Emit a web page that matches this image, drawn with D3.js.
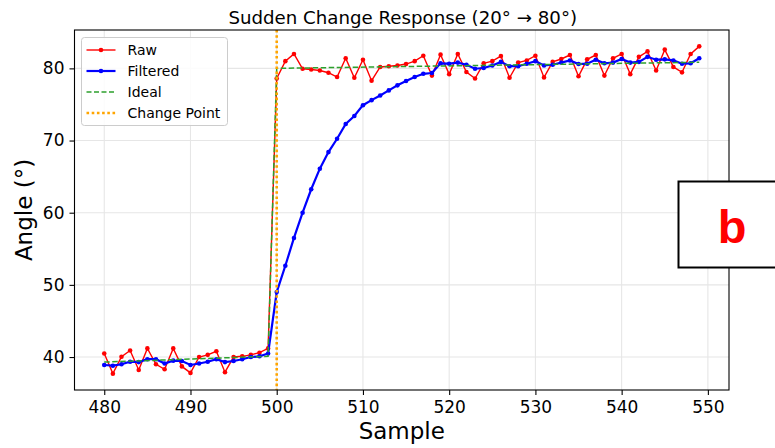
<!DOCTYPE html>
<html>
<head>
<meta charset="utf-8">
<script src="https://cdn.jsdelivr.net/npm/d3@7"></script>
<style>
  html, body { margin: 0; padding: 0; background: #fff; }
  svg { display: block; font-family: "DejaVu Sans", sans-serif; }
</style>
</head>
<body>
<svg id="chart" width="775" height="448"></svg>
<script>
// Sample index for every reading
const samples = [
  480, 481, 482, 483, 484, 485, 486, 487, 488, 489,
  490, 491, 492, 493, 494, 495, 496, 497, 498, 499,
  500, 501, 502, 503, 504, 505, 506, 507, 508, 509,
  510, 511, 512, 513, 514, 515, 516, 517, 518, 519,
  520, 521, 522, 523, 524, 525, 526, 527, 528, 529,
  530, 531, 532, 533, 534, 535, 536, 537, 538, 539,
  540, 541, 542, 543, 544, 545, 546, 547, 548, 549
];

// Raw sensor angle (degrees)
const rawValues = [
  40.5, 37.7, 40.05, 40.9, 38.2, 41.2, 39.0, 38.3, 41.2, 38.7,
  37.8, 40.0, 40.3, 40.8, 37.9, 40.0, 40.1, 40.3, 40.6, 41.2,
  78.6, 81.0, 82.0, 79.95, 79.85, 79.7, 79.4, 78.8, 81.4, 78.7,
  81.2, 78.3, 80.2, 80.3, 80.4, 80.6, 81.0, 81.75, 79.0, 81.9,
  79.2, 82.0, 79.5, 78.6, 80.7, 81.0, 81.7, 78.7, 80.8, 81.1,
  81.75, 78.75, 80.9, 81.3, 81.85, 78.9, 81.25, 81.85, 79.0, 81.4,
  82.0, 79.2, 81.6, 82.35, 79.7, 82.6, 80.2, 79.45, 82.0, 83.05
];

// Filtered angle (degrees)
const filteredValues = [
  38.9, 38.8, 39.0, 39.35, 39.3, 39.7, 39.7, 39.1, 39.5, 39.45,
  38.9, 39.1, 39.35, 39.7, 39.3, 39.45, 39.7, 40.0, 40.1, 40.5,
  49.0, 52.65, 56.5, 60.0, 63.25, 66.1, 68.4, 70.25, 72.3, 73.4,
  74.9, 75.6, 76.25, 76.95, 77.65, 78.25, 78.8, 79.25, 79.35, 80.7,
  80.65, 80.8, 80.5, 79.95, 80.05, 80.4, 80.9, 80.3, 80.3, 80.65,
  81.0, 80.4, 80.5, 80.8, 81.1, 80.6, 80.65, 81.2, 80.7, 80.8,
  81.3, 80.8, 80.9, 81.6, 81.2, 81.25, 81.1, 80.65, 80.7, 81.4
];

// Ideal trajectory vertices
const idealSamples = [480, 499, 500, 549];
const idealValues = [39.3, 40.1, 80.0, 80.85];

const changePoint = 500;

const xTicks = [480, 490, 500, 510, 520, 530, 540, 550];
const yTicks = [40, 50, 60, 70, 80];

const titleText = "Sudden Change Response (20° → 80°)";
const xLabel = "Sample";
const yLabel = "Angle (°)";
const legendLabels = ["Raw", "Filtered", "Ideal", "Change Point"];
const badgeText = "b";

// ---- layout ----
const svg = d3.select("#chart");
const plot = { left: 74.5, right: 729, top: 30, bottom: 390 };

const raw = samples.map((s, i) => ({ x: s, y: rawValues[i] }));
const filtered = samples.map((s, i) => ({ x: s, y: filteredValues[i] }));
const ideal = idealSamples.map((s, i) => ({ x: s, y: idealValues[i] }));

// 5% padding around the data range on both axes
function padded(lo, hi) {
  const m = (hi - lo) * 0.05;
  return [lo - m, hi + m];
}
const allY = rawValues.concat(filteredValues, idealValues);
const x = d3.scaleLinear()
  .domain(padded(d3.min(samples), d3.max(samples)))
  .range([plot.left, plot.right]);
const y = d3.scaleLinear()
  .domain(padded(d3.min(allY), d3.max(allY)))
  .range([plot.bottom, plot.top]);

// ---- grid ----
const grid = svg.append("g");
grid.selectAll("line.gx").data(xTicks).join("line")
  .attr("x1", d => x(d)).attr("x2", d => x(d))
  .attr("y1", plot.top).attr("y2", plot.bottom)
  .attr("stroke", "#e6e6e6").attr("stroke-width", 1.1);
grid.selectAll("line.gy").data(yTicks).join("line")
  .attr("x1", plot.left).attr("x2", plot.right)
  .attr("y1", d => y(d)).attr("y2", d => y(d))
  .attr("stroke", "#e6e6e6").attr("stroke-width", 1.1);

// ---- series ----
const line = d3.line().x(d => x(d.x)).y(d => y(d.y));

const rawG = svg.append("g");
rawG.append("path").datum(raw).attr("d", line)
  .attr("fill", "none").attr("stroke", "#ff0000").attr("stroke-width", 1.4);
rawG.selectAll("circle").data(raw).join("circle")
  .attr("cx", d => x(d.x)).attr("cy", d => y(d.y)).attr("r", 2.3)
  .attr("fill", "#ff0000");

const filtG = svg.append("g");
filtG.append("path").datum(filtered).attr("d", line)
  .attr("fill", "none").attr("stroke", "#0000ff").attr("stroke-width", 2.2);
filtG.selectAll("circle").data(filtered).join("circle")
  .attr("cx", d => x(d.x)).attr("cy", d => y(d.y)).attr("r", 2.3)
  .attr("fill", "#0000ff");

svg.append("path").datum(ideal).attr("d", line)
  .attr("fill", "none").attr("stroke", "#2ca02c").attr("stroke-width", 1.5)
  .attr("stroke-dasharray", "5.5,2.5");

svg.append("line")
  .attr("x1", x(changePoint)).attr("x2", x(changePoint))
  .attr("y1", plot.top).attr("y2", plot.bottom)
  .attr("stroke", "#ffa500").attr("stroke-width", 2.6)
  .attr("stroke-dasharray", "2.6,2.6");

// ---- axes ----
const xAxis = svg.append("g")
  .attr("transform", `translate(0,${plot.bottom})`)
  .call(d3.axisBottom(x).tickValues(xTicks).tickSize(5).tickPadding(6).tickSizeOuter(0));
const yAxis = svg.append("g")
  .attr("transform", `translate(${plot.left},0)`)
  .call(d3.axisLeft(y).tickValues(yTicks).tickSize(5).tickPadding(5).tickSizeOuter(0));
[xAxis, yAxis].forEach(a => {
  a.select(".domain").remove();
  a.selectAll(".tick line").attr("stroke", "#000").attr("stroke-width", 1.1);
  a.selectAll(".tick text").attr("fill", "#000")
    .style("font-family", "DejaVu Sans").style("font-size", "17px");
});

// frame
svg.append("rect")
  .attr("x", plot.left).attr("y", plot.top)
  .attr("width", plot.right - plot.left).attr("height", plot.bottom - plot.top)
  .attr("fill", "none").attr("stroke", "#000").attr("stroke-width", 1.1);

// ---- labels ----
svg.append("text")
  .attr("x", (plot.left + plot.right) / 2 + 1).attr("y", 23.5)
  .attr("text-anchor", "middle").style("font-size", "18.2px").attr("fill", "#000")
  .text(titleText);
svg.append("text")
  .attr("x", (plot.left + plot.right) / 2).attr("y", 439)
  .attr("text-anchor", "middle").style("font-size", "23px").attr("fill", "#000")
  .text(xLabel);
svg.append("text")
  .attr("transform", `translate(31.5,${(plot.top + plot.bottom) / 2}) rotate(-90)`)
  .attr("text-anchor", "middle").style("font-size", "23px").attr("fill", "#000")
  .text(yLabel);

// ---- legend ----
const legend = svg.append("g");
legend.append("rect")
  .attr("x", 81.5).attr("y", 37.5).attr("width", 146).attr("height", 88)
  .attr("rx", 3).attr("fill", "#fff").attr("fill-opacity", 0.85)
  .attr("stroke", "#cccccc").attr("stroke-width", 1);
const legendStyles = [
  { color: "#ff0000", width: 1.4, dash: null, marker: true },
  { color: "#0000ff", width: 2.2, dash: null, marker: true },
  { color: "#2ca02c", width: 1.5, dash: "5,2.5", marker: false },
  { color: "#ffa500", width: 2.6, dash: "2.6,2.6", marker: false }
];
const rowY = [50, 71, 92, 113];
legendLabels.forEach((lab, i) => {
  const st = legendStyles[i];
  const g = legend.append("g");
  const ln = g.append("line")
    .attr("x1", 86.5).attr("x2", 115.5).attr("y1", rowY[i]).attr("y2", rowY[i])
    .attr("stroke", st.color).attr("stroke-width", st.width);
  if (st.dash) ln.attr("stroke-dasharray", st.dash);
  if (st.marker) g.append("circle").attr("cx", 101).attr("cy", rowY[i]).attr("r", 2.3).attr("fill", st.color);
  g.append("text").attr("x", 127.5).attr("y", rowY[i]).attr("dy", "0.36em")
    .style("font-size", "14px").attr("fill", "#000").text(lab);
});

// ---- panel badge ----
svg.append("rect")
  .attr("x", 678.5).attr("y", 181.5).attr("width", 110).attr("height", 86)
  .attr("fill", "#fff").attr("stroke", "#000").attr("stroke-width", 2);
svg.append("text")
  .attr("x", 732).attr("y", 242.5).attr("text-anchor", "middle")
  .style("font-family", "'Liberation Sans', Arial, sans-serif")
  .style("font-weight", "bold").style("font-size", "47px")
  .attr("fill", "#ff0000").text(badgeText);
</script>
</body>
</html>
